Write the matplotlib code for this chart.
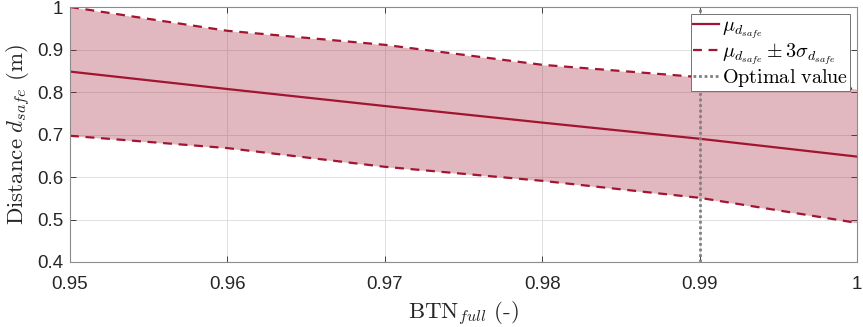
import numpy as np
import matplotlib
matplotlib.use("Agg")
import matplotlib.pyplot as plt

plt.rcParams['mathtext.fontset'] = 'cm'
plt.rcParams['font.family'] = ['Liberation Sans', 'DejaVu Sans']

btn = [0.95, 0.96, 0.97, 0.98, 0.99, 1.00]
mu = [0.848, 0.807, 0.767, 0.728, 0.690, 0.648]
upper = [1.000, 0.944, 0.911, 0.864, 0.835, 0.807]
lower = [0.697, 0.668, 0.624, 0.591, 0.551, 0.492]
optimal_btn = 0.99

red = (0.635, 0.078, 0.184)
gray = (0.5, 0.5, 0.5)
text_col = (0.15, 0.15, 0.15)

fig = plt.figure(figsize=(8.63, 3.27), dpi=100)
ax = fig.add_axes([70 / 863, 1 - 262 / 327, 787 / 863, 255 / 327])

ax.fill_between(btn, lower, upper, color=red, alpha=0.3, linewidth=0)
l1, = ax.plot(btn, mu, color=red, lw=1.6, label=r'$\mu_{d_{safe}}$')
l2, = ax.plot(btn, upper, color=red, lw=1.6, ls=(0, (4, 3)),
              label=r'$\mu_{d_{safe}} \pm 3\sigma_{d_{safe}}$')
ax.plot(btn, lower, color=red, lw=1.6, ls=(0, (4, 3)))
l3 = ax.axvline(optimal_btn, color=gray, lw=2, ls=(0, (1, 1)),
                label=r'$\mathrm{Optimal\ value}$')

ax.set_xlim(0.95, 1.0)
ax.set_ylim(0.4, 1.0)
ax.set_xticks([0.95, 0.96, 0.97, 0.98, 0.99, 1.0])
ax.set_xticklabels(['0.95', '0.96', '0.97', '0.98', '0.99', '1'])
ax.set_yticks([0.4, 0.5, 0.6, 0.7, 0.8, 0.9, 1.0])
ax.set_yticklabels(['0.4', '0.5', '0.6', '0.7', '0.8', '0.9', '1'])
ax.tick_params(direction='in', labelsize=13.5, colors=text_col,
               length=4, width=0.6, top=True, right=True)
ax.tick_params(axis='x', pad=10)
ax.tick_params(axis='y', pad=5)
for s in ax.spines.values():
    s.set_color((0.55, 0.55, 0.55))
    s.set_linewidth(0.8)
ax.grid(True, color=(0.88, 0.88, 0.88), lw=0.7)
ax.set_axisbelow(True)

ax.set_xlabel(r'$\mathrm{BTN}_{full}\ \mathrm{(\text{-})}$', fontsize=16.5,
              color=text_col)
ax.xaxis.set_label_coords(0.5, -0.148)
ax.set_ylabel(r'$\mathrm{Distance}\ d_{safe}\ \mathrm{(m)}$', fontsize=16.5,
              color=text_col)
ax.yaxis.set_label_coords(-0.047, 0.5)

leg = ax.legend(handles=[l1, l2, l3], loc='upper right', fontsize=14.5,
                frameon=True, fancybox=False, framealpha=1,
                edgecolor=(0.45, 0.45, 0.45), borderaxespad=0.35,
                handlelength=1.3, handletextpad=0.15, borderpad=0.1,
                labelspacing=0.0)
leg.get_frame().set_linewidth(0.7)

fig.savefig('out.png', dpi=100)
